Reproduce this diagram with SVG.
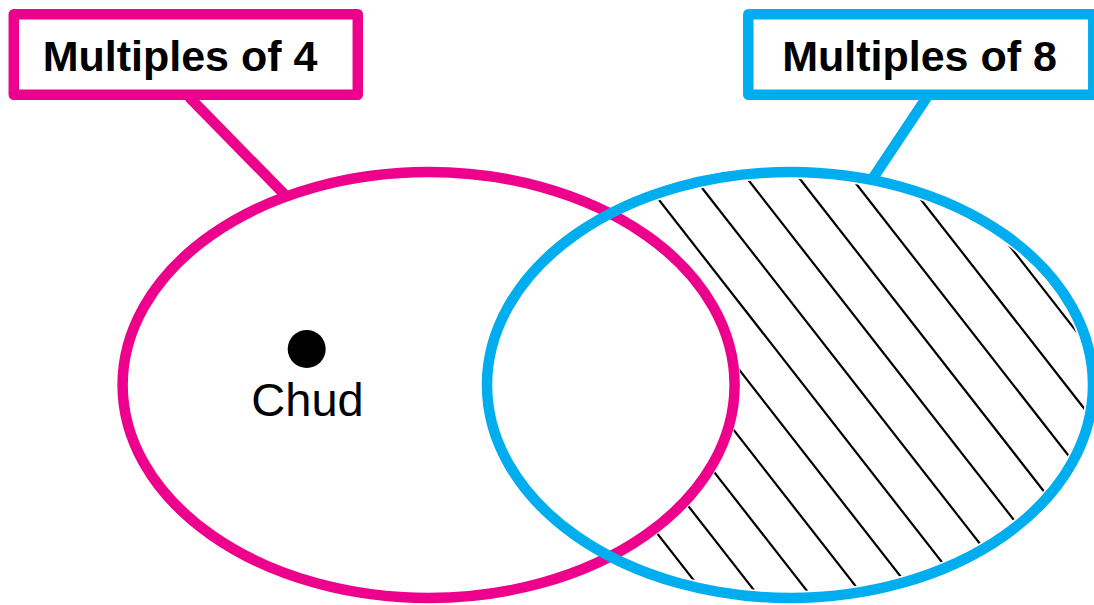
<svg xmlns="http://www.w3.org/2000/svg" width="1094" height="605" viewBox="0 0 1094 605">
  <style>
    .pink { stroke: #EC008C; }
    .blue { stroke: #00AEEF; }
    .outline { fill: none; stroke-width: 10.5; stroke-linejoin: round; }
    .label { font-family: "Liberation Sans", Arial, sans-serif; font-weight: bold; font-size: 43px; fill: #000; text-anchor: middle; }
    .item { font-family: "Liberation Sans", Arial, sans-serif; font-size: 47px; fill: #000; text-anchor: middle; }
    .hatch line { stroke: #000; stroke-width: 2.2; }
  </style>
  <defs>
    <mask id="onlyB">
      <rect x="0" y="0" width="1094" height="605" fill="#000"/>
      <ellipse cx="790" cy="385" rx="296" ry="206" fill="#fff"/>
      <ellipse cx="428.6" cy="385" rx="312" ry="219.5" fill="#000"/>
    </mask>
  </defs>
  <rect x="0" y="0" width="1094" height="605" fill="#fff"/>

  <g id="connectors">
    <line class="outline pink" x1="189" y1="97" x2="285" y2="195"/>
    <line class="outline blue" x1="927" y1="97" x2="873" y2="178"/>
  </g>

  <g id="hatch-only-multiples-of-8" class="hatch" mask="url(#onlyB)">
    <line x1="357.7" y1="150" x2="717" y2="610"/>
    <line x1="410.2" y1="150" x2="769.5" y2="610"/>
    <line x1="462.6" y1="150" x2="821.9" y2="610"/>
    <line x1="515" y1="150" x2="874.3" y2="610"/>
    <line x1="567.5" y1="150" x2="926.8" y2="610"/>
    <line x1="620" y1="150" x2="979.3" y2="610"/>
    <line x1="672.4" y1="150" x2="1031.7" y2="610"/>
    <line x1="724.9" y1="150" x2="1084.2" y2="610"/>
    <line x1="777.3" y1="150" x2="1136.6" y2="610"/>
    <line x1="829.8" y1="150" x2="1189.1" y2="610"/>
    <line x1="882.2" y1="150" x2="1241.5" y2="610"/>
    <line x1="934.7" y1="150" x2="1294" y2="610"/>
  </g>

  <g id="set-multiples-of-4">
    <ellipse class="outline pink" cx="428.6" cy="385" rx="306" ry="213"/>
  </g>
  <g id="set-multiples-of-8">
    <ellipse class="outline blue" cx="790" cy="385" rx="303" ry="213"/>
  </g>

  <g id="label-multiples-of-4">
    <rect class="outline pink" x="13.8" y="14.2" width="344" height="80.5" fill="#fff"/>
    <text class="label" x="180" y="71">Multiples of 4</text>
  </g>
  <g id="label-multiples-of-8">
    <rect class="outline blue" x="748.3" y="14.3" width="345" height="80.5" fill="#fff"/>
    <text class="label" x="919.5" y="71">Multiples of 8</text>
  </g>

  <g id="element-chud">
    <circle cx="306.7" cy="349" r="19" fill="#000"/>
    <text class="item" x="307.5" y="416">Chud</text>
  </g>
</svg>
